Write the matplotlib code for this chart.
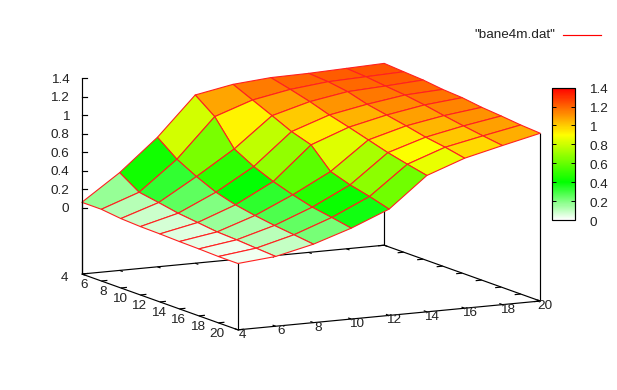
import numpy as np
import matplotlib
matplotlib.use("Agg")
import matplotlib.pyplot as plt
from matplotlib.colors import LinearSegmentedColormap, Normalize
from matplotlib.cm import ScalarMappable
from matplotlib.lines import Line2D
from matplotlib.transforms import IdentityTransform, ScaledTranslation
from mpl_toolkits.mplot3d import proj3d

plt.rcParams['font.family'] = ['Liberation Sans', 'DejaVu Sans']

# Data
x_values = [4, 6, 8, 10, 12, 14, 16, 18, 20]
y_values = [4, 6, 8, 10, 12, 14, 16, 18, 20]
z_by_y = [
    [.058, .058, .033, .022, .018, .011, .007, .000, .000],
    [.340, .203, .167, .127, .102, .076, .066, .051, .037],
    [.683, .521, .409, .315, .254, .214, .182, .157, .131],
    [1.102, .943, .669, .554, .467, .399, .341, .305, .265],
    [1.178, 1.084, .990, .893, .825, .612, .543, .493, .432],
    [1.212, 1.160, 1.103, 1.034, .977, .915, .853, .803, .757],
    [1.219, 1.204, 1.172, 1.111, 1.070, 1.028, .981, .948, .905],
    [1.234, 1.219, 1.194, 1.172, 1.140, 1.100, 1.064, 1.032, 1.003],
    [1.249, 1.234, 1.220, 1.194, 1.180, 1.151, 1.133, 1.111, 1.097],
]
z_ticks = [0, 0.2, 0.4, 0.6, 0.8, 1, 1.2, 1.4]
z_tick_labels = ['0', '0.2', '0.4', '0.6', '0.8', '1', '1.2', '1.4']
palette_levels = [0, 0.4, 0.9, 1.4]
palette_colors = ['white', '#00ff00', '#ffff00', '#ff0000']
legend_label = '"bane4m.dat"'

W, H = 617, 390
Z_BASE = -0.7175
FS = 9.7
TEXT = '#222222'
fig = plt.figure(figsize=(W / 100, H / 100), dpi=100)
ax = fig.add_axes([0, 0, 1, 1], projection='3d')
ax.apply_aspect = lambda position=None: None
ax.computed_zorder = False
ax.set_proj_type('ortho')
ax.view_init(elev=10.7, azim=-27.3)
ax.set_box_aspect((1, 1, 0.589))
ax.set_xlim(4, 20, view_margin=0)
ax.set_ylim(4, 20, view_margin=0)
ax.set_zlim(Z_BASE, 1.4, view_margin=0)
ax.set_axis_off()

X, Y = np.meshgrid(x_values, y_values)
Z = np.array(z_by_y)

# Place the axes box so that the base corners land on the reference pixels
M = ax.get_proj()
corners = [(4, 4, Z_BASE, 82, 274), (20, 4, Z_BASE, 237, 330),
           (20, 20, Z_BASE, 540, 301), (4, 20, Z_BASE, 385, 245),
           (4, 4, 1.4, 82, 78.3)]
uv = np.array([proj3d.proj_transform(c[0], c[1], c[2], M)[:2] for c in corners])
tx = np.array([c[3] for c in corners], float)
ty = H - np.array([c[4] for c in corners], float)
A, B = np.polyfit(uv[:, 0], tx, 1)
C, D = np.polyfit(uv[:, 1], ty, 1)
vl = ax.viewLim
x0_px = A * vl.x0 + B
x1_px = A * vl.x1 + B
y0_px = C * vl.y0 + D
y1_px = C * vl.y1 + D
ax.set_position([x0_px / W, y0_px / H, (x1_px - x0_px) / W, (y1_px - y0_px) / H])


def to_px(x, y, z):
    u, v, _ = proj3d.proj_transform(x, y, z, M)
    return A * u + B, C * v + D


# Colours
levels = np.array(palette_levels) / palette_levels[-1]
cmap = LinearSegmentedColormap.from_list('pal', list(zip(levels, palette_colors)), N=256)
norm = Normalize(0, 1.4)
means = (Z[:-1, :-1] + Z[1:, :-1] + Z[:-1, 1:] + Z[1:, 1:]) / 4
face = cmap(norm(means))

line_kw = dict(color='black', lw=0.85, solid_capstyle='butt')
# Base frame
ax.plot([4, 20, 20, 4, 4], [4, 4, 20, 20, 4], [Z_BASE] * 5, zorder=1, **line_kw)
# Corner verticals to the surface
for i, j in [(0, 8), (8, 8), (8, 0), (0, 0)]:
    ax.plot([x_values[j]] * 2, [y_values[i]] * 2, [Z_BASE, Z[i, j]], zorder=1, **line_kw)

tic = 0.02 * 16
for v in x_values:
    ax.plot([v, v], [4, 4 + tic], [Z_BASE] * 2, zorder=1, **line_kw)
    ax.plot([v, v], [20, 20 - tic], [Z_BASE] * 2, zorder=1, **line_kw)
for v in y_values:
    ax.plot([4, 4 + tic], [v, v], [Z_BASE] * 2, zorder=1, **line_kw)
    ax.plot([20, 20 - tic], [v, v], [Z_BASE] * 2, zorder=1, **line_kw)

# Surface
ax.plot_surface(X, Y, Z, rstride=1, cstride=1, facecolors=face, edgecolor='#ff2020',
                linewidth=0.8, shade=False, antialiased=True, zorder=3)

# z axis
ax.plot([4, 4], [4, 4], [Z_BASE, 1.4], zorder=4, **line_kw)
for zt, lab in zip(z_ticks, z_tick_labels):
    px, py = to_px(4, 4, zt)
    fig.add_artist(Line2D([px, px + 5], [py, py], transform=IdentityTransform(),
                          color='black', lw=0.85))
    fig.text((px - 12.5) / W, (py - 1.5) / H, lab, ha='right', va='center', fontsize=FS, color=TEXT)
# Tick labels of the base axes
for v in x_values:
    px, py = to_px(v, 4, Z_BASE)
    fig.text((px - 13.5) / W, (py - 4) / H, str(v), ha='right', va='center', fontsize=FS, color=TEXT)
for v in y_values:
    px, py = to_px(20, v, Z_BASE)
    fig.text((px + 5) / W, (py - 5) / H, str(v), ha='center', va='center', fontsize=FS, color=TEXT)

# Legend
fig.text(555.5 / W, (H - 35) / H, legend_label, ha='right', va='center', fontsize=FS, color=TEXT)
fig.add_artist(Line2D([563, 601], [H - 35, H - 35], transform=IdentityTransform(), color='#ff0000', lw=0.85))

# Colour box
cax = fig.add_axes([552.3 / W, (H - 220) / H, 23 / W, 132.3 / H])
cb = fig.colorbar(ScalarMappable(norm=norm, cmap=cmap), cax=cax)
cb.set_ticks(z_ticks, labels=z_tick_labels)
cb.ax.tick_params(direction='in', left=True, right=True, length=3.2, width=0.7, pad=10, labelsize=FS, labelcolor=TEXT)
cb.outline.set_linewidth(0.85)
shift = ScaledTranslation(0, -1 / 100, fig.dpi_scale_trans)
for label in cb.ax.get_yticklabels():
    label.set_transform(label.get_transform() + shift)

fig.savefig('out.png', dpi=100)
